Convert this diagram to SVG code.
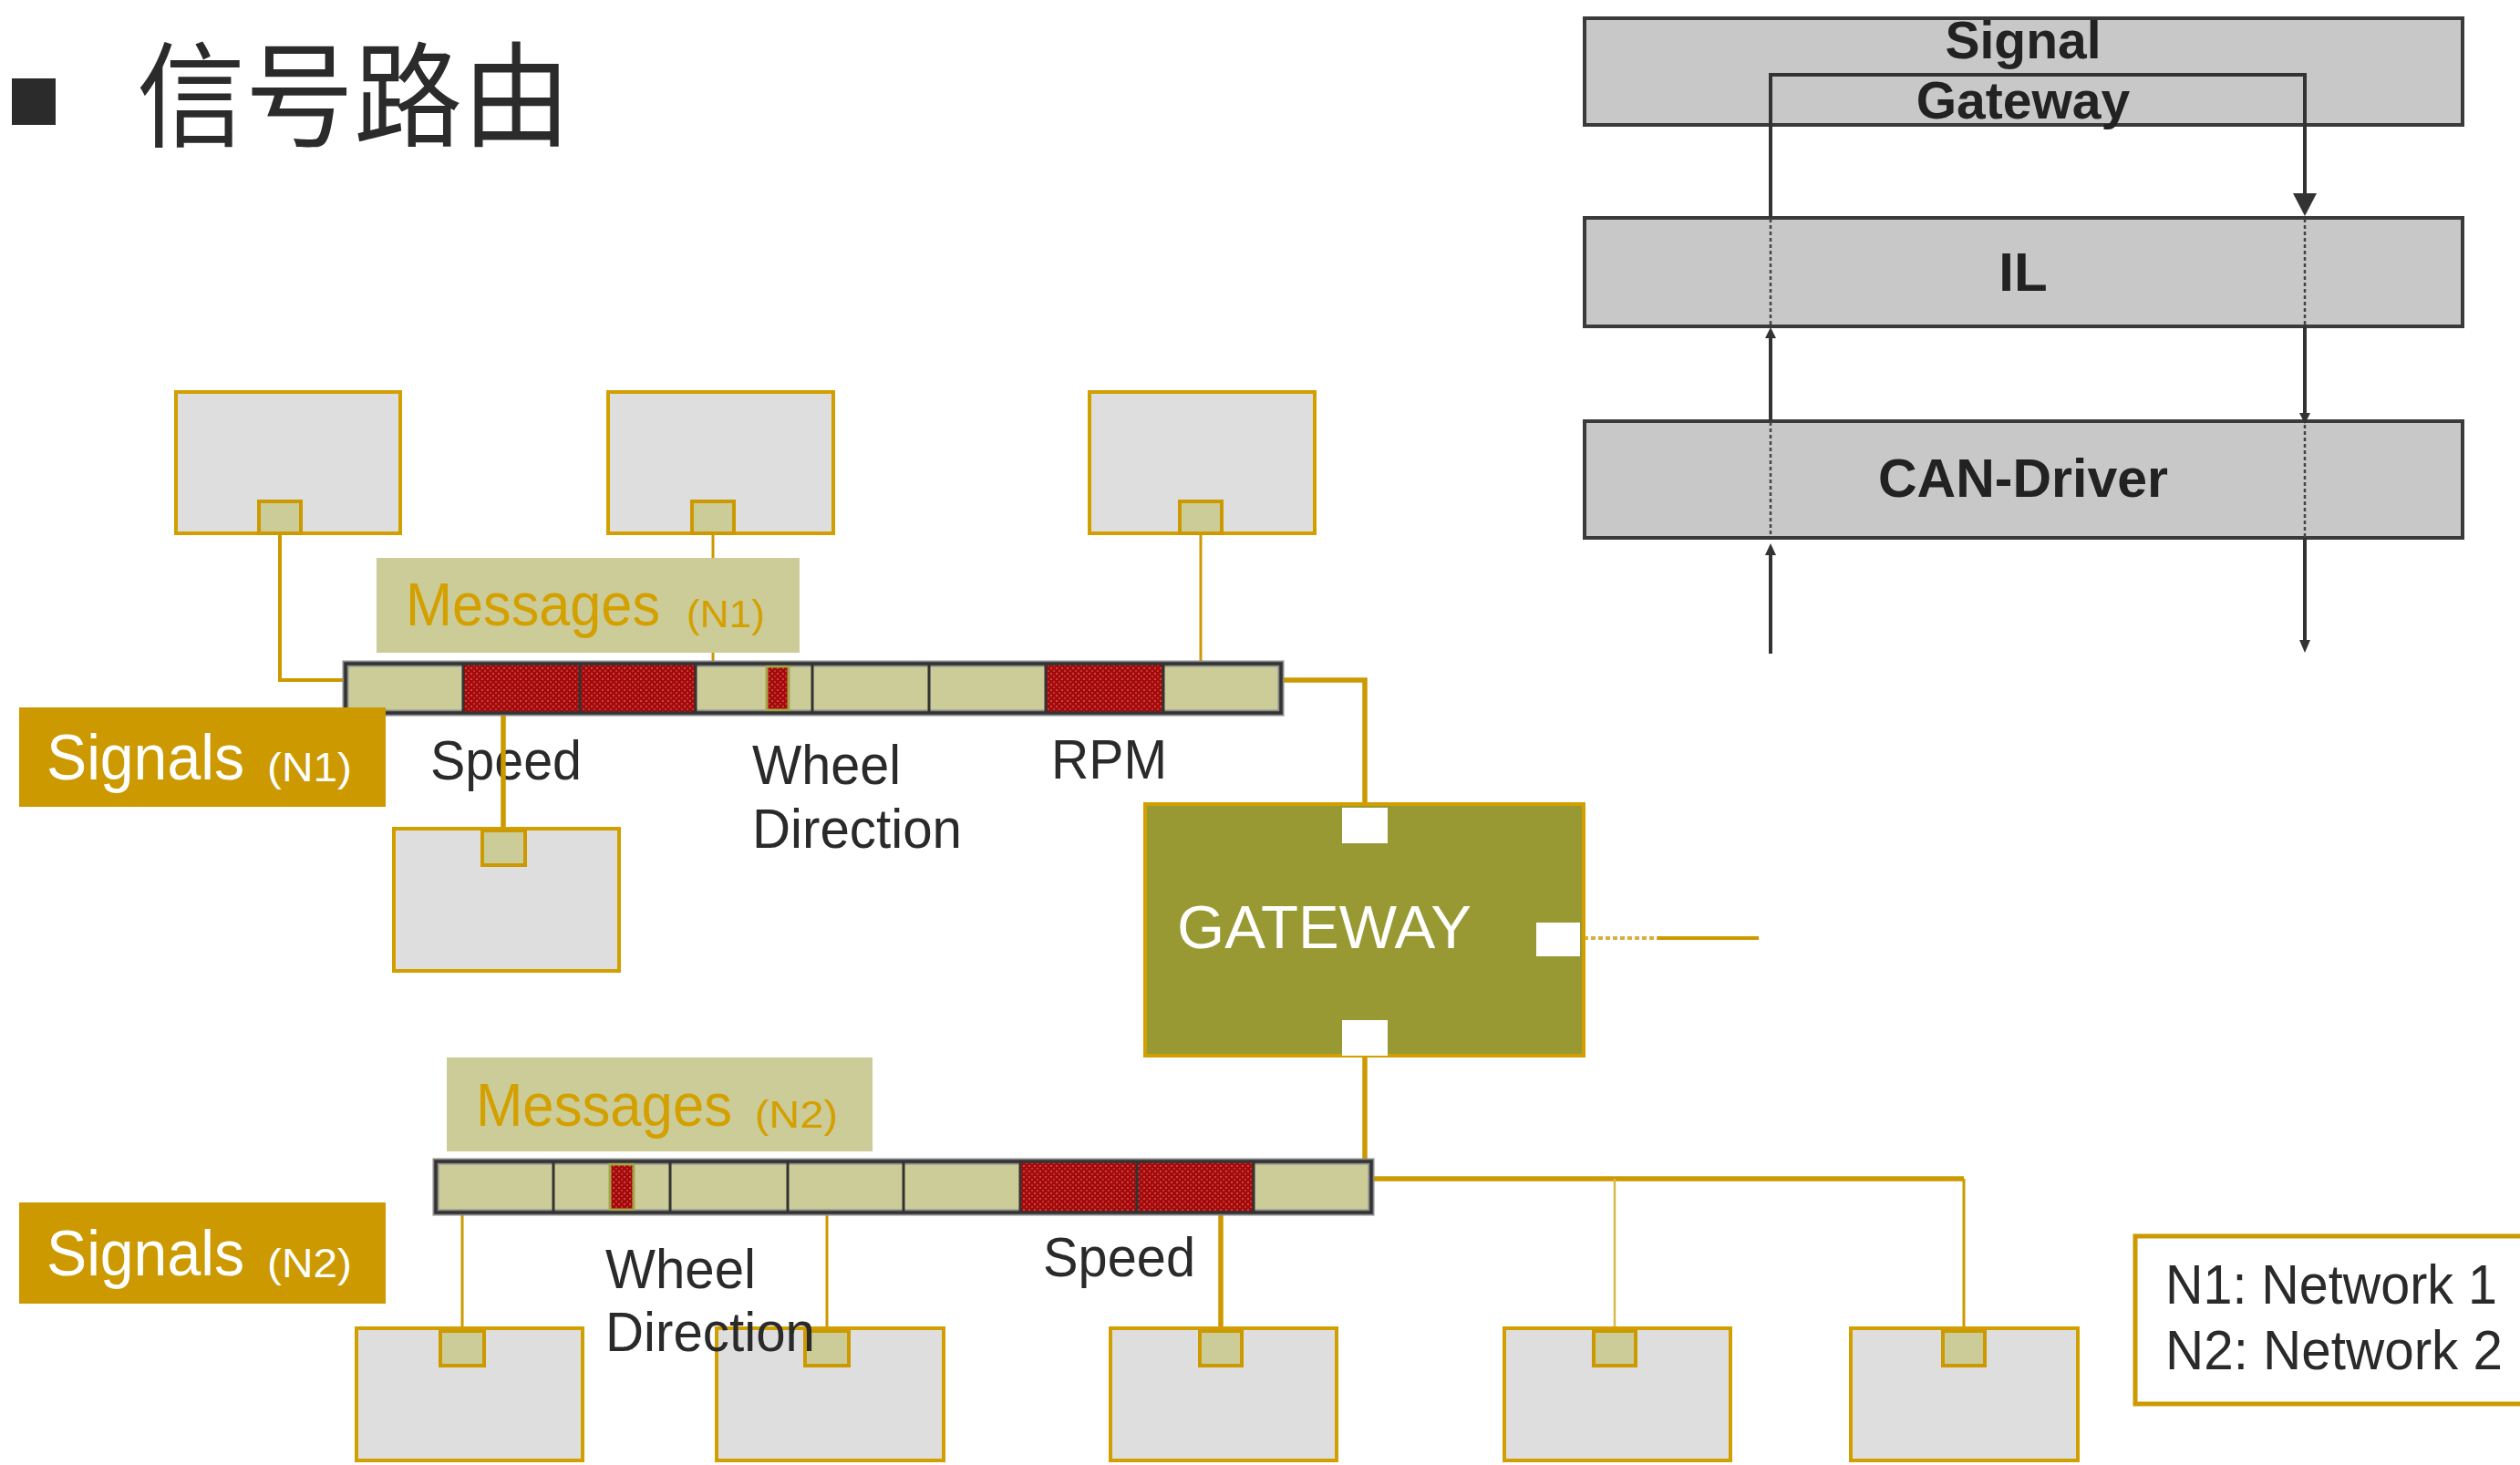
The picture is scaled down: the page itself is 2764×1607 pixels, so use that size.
<svg xmlns="http://www.w3.org/2000/svg" width="2764" height="1607" viewBox="0 0 2764 1607">
<defs>
<style>
.ecu{fill:#dedede;stroke:#d1a000;stroke-width:4}
.sq{fill:#cccc99;stroke:#cc9900;stroke-width:4}
.busbg{fill:#cccc99;stroke:#8a8a8a;stroke-width:7}
.bus{fill:none;stroke:#333;stroke-width:3.5}
.sep{stroke:#333;stroke-width:3}
.red{fill:url(#redpat)}
.mark{fill:url(#redpat);stroke:#a5a54a;stroke-width:3}
.msg{fill:#cccc99}
.msgt{font-family:"Liberation Sans",Arial,sans-serif;fill:#d4a000}
.sig{fill:#cc9900}
.sigt{font-family:"Liberation Sans",Arial,sans-serif;fill:#fff}
.lbl{font-family:"Liberation Sans",Arial,sans-serif;font-size:61px;fill:#2a2a2a}
.wire{fill:none;stroke:#cc9900;stroke-width:4}
.wire5{fill:none;stroke:#cc9900;stroke-width:5.5}
.wire3{fill:none;stroke:#cc9900;stroke-width:3}
.wire2{fill:none;stroke:#d9b84a;stroke-width:2.5}
.gw{fill:#999933;stroke:#d1a000;stroke-width:4}
.port{fill:#fff}
.stk{fill:#c8c8c8;stroke:#3a3a3a;stroke-width:4}
.stkt{font-family:"Liberation Sans",Arial,sans-serif;font-weight:bold;fill:#222;text-anchor:middle}
.sl{fill:none;stroke:#333;stroke-width:4}
.dl{fill:none;stroke:#444;stroke-width:2.5;stroke-dasharray:4 3}
.ah{fill:#333}
</style>
<pattern id="redpat" width="6" height="6" patternUnits="userSpaceOnUse">
<rect width="6" height="6" fill="#a50a0a"/>
<rect x="0" y="0" width="2" height="2" fill="#c94545"/>
<rect x="3" y="3" width="2" height="2" fill="#bd3535"/>
</pattern>
</defs>
<rect width="2764" height="1607" fill="#fff"/>

<g id="title">
<rect x="13" y="86" width="48" height="51" fill="#2b2b2b"/>
<text x="150" y="151" font-family="'Noto Sans CJK SC',sans-serif" font-size="125" fill="#2b2b2b" textLength="476" lengthAdjust="spacingAndGlyphs">信号路由</text>
</g>

<g id="label-speed-n1"><text class="lbl" x="472" y="855" textLength="166" lengthAdjust="spacingAndGlyphs">Speed</text></g>

<g id="connectors">
<path class="wire" d="M307 585 V746 H379"/>
<path class="wire3" d="M782 585 V728"/>
<path class="wire3" d="M1317 585 V728"/>
<path class="wire5" d="M552 783 V911"/>
<path class="wire5" d="M1405 746 H1497 V882"/>
<path fill="none" stroke="#d9b040" stroke-width="4" stroke-dasharray="5 3" d="M1737 1029 H1818"/>
<path class="wire" d="M1818 1029 H1929"/>
<path class="wire5" d="M1497 1158 V1274"/>
<path class="wire3" d="M507 1330 V1460"/>
<path class="wire3" d="M907 1330 V1460"/>
<path class="wire5" d="M1339 1330 V1458"/>
<path class="wire5" d="M1504 1293 H2154"/>
<path class="wire3" d="M2154 1293 V1457"/>
<path class="wire2" d="M1771 1293 V1458"/>
</g>

<g id="ecu-n1-1"><rect class="ecu" x="193" y="430" width="246" height="155"/><rect class="sq" x="284" y="550" width="46" height="35"/></g>
<g id="ecu-n1-2"><rect class="ecu" x="667" y="430" width="247" height="155"/><rect class="sq" x="759" y="550" width="46" height="35"/></g>
<g id="ecu-n1-3"><rect class="ecu" x="1195" y="430" width="247" height="155"/><rect class="sq" x="1294" y="550" width="46" height="35"/></g>
<g id="ecu-n1-4"><rect class="ecu" x="432" y="909" width="247" height="156"/><rect class="sq" x="529" y="911" width="47" height="38"/></g>

<g id="ecu-n2-1"><rect class="ecu" x="391" y="1457" width="248" height="145"/><rect class="sq" x="483" y="1460" width="48" height="38"/></g>
<g id="ecu-n2-2"><rect class="ecu" x="786" y="1457" width="249" height="145"/><rect class="sq" x="883" y="1460" width="48" height="38"/></g>
<g id="ecu-n2-3"><rect class="ecu" x="1218" y="1457" width="248" height="145"/><rect class="sq" x="1316" y="1460" width="46" height="38"/></g>
<g id="ecu-n2-4"><rect class="ecu" x="1650" y="1457" width="248" height="145"/><rect class="sq" x="1748" y="1460" width="46" height="38"/></g>
<g id="ecu-n2-5"><rect class="ecu" x="2030" y="1457" width="249" height="145"/><rect class="sq" x="2131" y="1460" width="46" height="38"/></g>

<g id="bus-n1">
<rect class="busbg" x="379" y="728" width="1026" height="54"/>
<rect class="red" x="508" y="728" width="128" height="54"/>
<rect class="red" x="636" y="728" width="127" height="54"/>
<rect class="red" x="1147" y="728" width="129" height="54"/>
<rect class="mark" x="841" y="731" width="24" height="48"/>
<path class="sep" d="M508 728V782M636 728V782M763 728V782M891 728V782M1019 728V782M1147 728V782M1276 728V782"/>
<rect class="bus" x="379" y="728" width="1026" height="54"/>
</g>

<g id="bus-n2">
<rect class="busbg" x="478" y="1274" width="1026" height="56"/>
<rect class="red" x="1119" y="1274" width="128" height="56"/>
<rect class="red" x="1247" y="1274" width="128" height="56"/>
<rect class="mark" x="669" y="1277" width="26" height="50"/>
<path class="sep" d="M607 1274V1330M735 1274V1330M864 1274V1330M991 1274V1330M1119 1274V1330M1247 1274V1330M1375 1274V1330"/>
<rect class="bus" x="478" y="1274" width="1026" height="56"/>
</g>

<g id="messages-n1">
<rect class="msg" x="413" y="612" width="464" height="104"/>
<text class="msgt" x="445" y="686" font-size="66" textLength="279" lengthAdjust="spacingAndGlyphs">Messages</text>
<text class="msgt" x="753" y="688" font-size="42" textLength="86" lengthAdjust="spacingAndGlyphs">(N1)</text>
</g>
<g id="messages-n2">
<rect class="msg" x="490" y="1160" width="467" height="103"/>
<text class="msgt" x="522" y="1235" font-size="66" textLength="281" lengthAdjust="spacingAndGlyphs">Messages</text>
<text class="msgt" x="828" y="1237" font-size="42" textLength="91" lengthAdjust="spacingAndGlyphs">(N2)</text>
</g>

<g id="signals-n1">
<rect class="sig" x="21" y="776" width="402" height="109"/>
<text class="sigt" x="51" y="855" font-size="70" textLength="217" lengthAdjust="spacingAndGlyphs">Signals</text>
<text class="sigt" x="293" y="857" font-size="44" textLength="93" lengthAdjust="spacingAndGlyphs">(N1)</text>
</g>
<g id="signals-n2">
<rect class="sig" x="21" y="1319" width="402" height="111"/>
<text class="sigt" x="51" y="1399" font-size="70" textLength="217" lengthAdjust="spacingAndGlyphs">Signals</text>
<text class="sigt" x="293" y="1401" font-size="44" textLength="93" lengthAdjust="spacingAndGlyphs">(N2)</text>
</g>

<g id="gateway">
<rect class="gw" x="1256" y="882" width="481" height="276"/>
<rect class="port" x="1472" y="886" width="50" height="39"/>
<rect class="port" x="1472" y="1119" width="50" height="39"/>
<rect class="port" x="1685" y="1012" width="48" height="37"/>
<text x="1291" y="1040" font-family="'Liberation Sans',Arial,sans-serif" font-size="67" fill="#fff" textLength="323" lengthAdjust="spacingAndGlyphs">GATEWAY</text>
</g>

<g id="labels">
<text class="lbl" x="825" y="860" textLength="163" lengthAdjust="spacingAndGlyphs">Wheel</text>
<text class="lbl" x="825" y="930" textLength="230" lengthAdjust="spacingAndGlyphs">Direction</text>
<text class="lbl" x="1153" y="854" textLength="127" lengthAdjust="spacingAndGlyphs">RPM</text>
<text class="lbl" x="664" y="1413" textLength="165" lengthAdjust="spacingAndGlyphs">Wheel</text>
<text class="lbl" x="664" y="1482" textLength="230" lengthAdjust="spacingAndGlyphs">Direction</text>
<text class="lbl" x="1144" y="1400" textLength="167" lengthAdjust="spacingAndGlyphs">Speed</text>
</g>

<g id="legend">
<rect x="2342" y="1356" width="430" height="184" fill="#fff" stroke="#cc9900" stroke-width="5"/>
<text class="lbl" x="2375" y="1430" textLength="364" lengthAdjust="spacingAndGlyphs">N1: Network 1</text>
<text class="lbl" x="2375" y="1502" textLength="370" lengthAdjust="spacingAndGlyphs">N2: Network 2</text>
</g>

<g id="stack">
<g id="signal-gateway">
<rect class="stk" x="1738" y="20" width="963" height="117"/>
<text class="stkt" x="2219" y="64" font-size="57">Signal</text>
<text class="stkt" x="2219" y="130" font-size="57">Gateway</text>
</g>
<g id="il">
<rect class="stk" x="1738" y="239" width="963" height="119"/>
<text class="stkt" x="2219" y="319" font-size="60">IL</text>
</g>
<g id="can-driver">
<rect class="stk" x="1738" y="462" width="963" height="128"/>
<text class="stkt" x="2219" y="545" font-size="59">CAN-Driver</text>
</g>
<g id="stack-arrows">
<path class="sl" d="M1942 238 V82 H2528 V216"/>
<polygon class="ah" points="2515,212 2541,212 2528,237"/>
<path class="dl" d="M1942 240 V357"/>
<path class="dl" d="M2528 240 V357"/>
<path class="sl" d="M1942 462 V368"/>
<polygon class="ah" points="1936,371 1948,371 1942,359"/>
<path class="sl" d="M2528 358 V455"/>
<polygon class="ah" points="2522,453 2534,453 2528,465"/>
<path class="dl" d="M1942 463 V589"/>
<path class="dl" d="M2528 466 V589"/>
<path class="sl" d="M1942 717 V606"/>
<polygon class="ah" points="1936,609 1948,609 1942,596"/>
<path class="sl" d="M2528 590 V704"/>
<polygon class="ah" points="2522,702 2534,702 2528,716"/>
</g>
</g>
</svg>
